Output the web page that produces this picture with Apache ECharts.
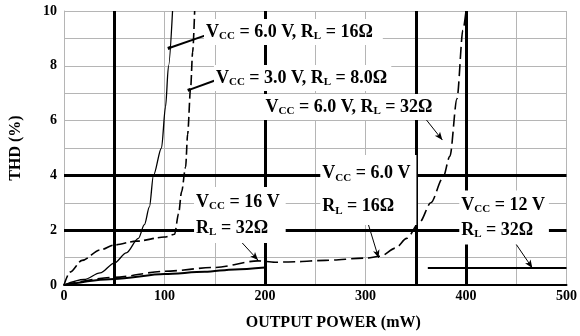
<!DOCTYPE html>
<html>
<head>
<meta charset="utf-8">
<title>THD vs Output Power</title>
<script src="https://cdn.jsdelivr.net/npm/echarts@6/dist/echarts.min.js"></script>
<style>
  html, body { margin: 0; padding: 0; background: #fff; }
  #chart { width: 580px; height: 336px; }
</style>
</head>
<body>
<div id="chart"></div>
<script>
// curves: [output power mW, THD %]
const curveA = [[0, 0], [20, 0.2], [36, 0.44], [50, 0.8], [62, 1.17], [74, 1.7], [80, 2.2], [85, 2.85], [89, 4], [97, 5], [101, 6.5], [104, 8], [108, 10]];
const curveB = [[0, 0], [6, 0.47], [18, 0.9], [36, 1.28], [50, 1.46], [72, 1.6], [100, 1.75], [110, 1.85], [114, 2.6], [117, 3.4], [121, 4.3], [123, 5.5], [126, 7.2], [128, 8.5], [130, 10]];
const curveC = [[0, 0], [50, 0.28], [100, 0.5], [150, 0.64], [193, 0.88], [210, 0.83], [230, 0.85], [260, 0.9], [300, 0.98], [315, 1.05], [330, 1.35], [341, 1.7], [354, 2.3], [365, 3], [377, 3.9], [384, 4.7], [391, 6.8], [397, 9.3], [400, 10]];
const curveD = [[0, 0], [50, 0.22], [100, 0.4], [140, 0.48], [170, 0.57], [200, 0.64]];
const curveE = [[362, 0.62], [500, 0.62]];

// heavy grid lines in the scan
const heavyX = [50, 200, 350, 400];
const heavyY = [2, 4];

// annotations (text top-left in data units) and their pointer lines
const notes = [
  { text: '{n|V}{s|CC}{n| = 6.0 V, R}{s|L}{n| = 16Ω}', at: [139.3, 9.71], lh: 22, padR: 10 },
  { text: '{n|V}{s|CC}{n| = 3.0 V, R}{s|L}{n| = 8.0Ω}', at: [149.2, 8.03], lh: 22, padR: 4 },
  { text: '{n|V}{s|CC}{n| = 6.0 V, R}{s|L}{n| = 32Ω}', at: [198.6, 6.97], lh: 22, padR: 4 },
  { text: '{n|V}{s|CC}{n| = 16 V}\n{n|R}{s|L}{n| = 32Ω}', at: [129.4, 3.58], lh: 26, padR: 6 },
  { text: '{n|V}{s|CC}{n| = 6.0 V}\n{n|R}{s|L}{n| = 16Ω}', at: [255, 4.74], lh: 33, padR: 6 },
  { text: '{n|V}{s|CC}{n| = 12 V}\n{n|R}{s|L}{n| = 32Ω}', at: [393.3, 3.45], lh: 25, padR: 4 }
];
const pointers = [
  { from: [141.5, 9.12], to: [104.7, 8.65], arrow: false, w: 2 },
  { from: [151.5, 7.48], to: [124.5, 7.12], arrow: false, w: 2 },
  { from: [359, 6.1], to: [376.5, 5.29], arrow: true, w: 1 },
  { from: [171, 1.79], to: [193, 0.91], arrow: true, w: 1 },
  { from: [300, 2.55], to: [313, 0.99], arrow: true, w: 1 },
  { from: [445, 1.75], to: [466, 0.62], arrow: true, w: 1 }
];

const FONT = '"Liberation Serif", "DejaVu Serif", serif';

function curve(data, dash, width) {
  return {
    type: 'line',
    data: data,
    symbol: 'none',
    smooth: 0.3,
    smoothMonotone: 'x',
    silent: true,
    z: 4,
    lineStyle: { color: '#000', width: width, type: dash || 'solid' }
  };
}

var chart = echarts.init(document.getElementById('chart'));

chart.setOption({
  animation: false,
  backgroundColor: '#fff',
  grid: { left: 62, right: 12, top: 11, bottom: 51 },
  xAxis: {
    type: 'value',
    min: 0, max: 500, interval: 50,
    name: 'OUTPUT POWER (mW)',
    nameLocation: 'middle',
    nameGap: 30,
    nameTextStyle: { fontFamily: FONT, fontWeight: 'bold', fontSize: 16, color: '#000', padding: [0, 0, 0, 36] },
    axisLine: { lineStyle: { color: '#000', width: 2 } },
    axisTick: { show: false },
    axisLabel: {
      margin: 4,
      fontFamily: FONT, fontWeight: 'bold', fontSize: 14, color: '#000',
      formatter: function (v) { return v % 100 === 0 ? v : ''; }
    },
    splitLine: { show: true, lineStyle: { color: '#b5b5b5', width: 1 } }
  },
  yAxis: {
    type: 'value',
    min: 0, max: 10, interval: 1,
    name: 'THD (%)',
    nameLocation: 'middle',
    nameGap: 40,
    nameTextStyle: { fontFamily: FONT, fontWeight: 'bold', fontSize: 16, color: '#000' },
    axisLine: { show: true, lineStyle: { color: '#b5b5b5', width: 1 } },
    axisTick: { show: false },
    axisLabel: {
      margin: 7,
      fontFamily: FONT, fontWeight: 'bold', fontSize: 14, color: '#000',
      formatter: function (v) { return v % 2 === 0 ? v : ''; }
    },
    splitLine: { show: true, lineStyle: { color: '#b5b5b5', width: 1 } }
  },
  series: [
    {
      type: 'line',
      data: [[0, 0]],
      symbol: 'none',
      silent: true,
      lineStyle: { opacity: 0 },
      z: 2,
      markLine: {
        silent: true,
        symbol: 'none',
        animation: false,
        label: { show: false },
        lineStyle: { color: '#000', width: 3, type: 'solid' },
        data: heavyX.map(function (v) { return { xAxis: v }; })
          .concat(heavyY.map(function (v) { return { yAxis: v }; }))
      }
    },
    curve(curveA, 'solid', 1.3),
    curve(curveB, [10, 4], 1.6),
    curve(curveC, [12, 5], 1.6),
    curve(curveD, 'solid', 2),
    curve(curveE, 'solid', 2),
    {
      type: 'line',
      data: [[0, 0]],
      symbol: 'none',
      silent: true,
      lineStyle: { opacity: 0 },
      z: 6,
      markLine: {
        silent: true,
        animation: false,
        label: { show: false },
        data: pointers.map(function (p) {
          return [
            { coord: p.from, symbol: 'none', lineStyle: { color: '#000', width: p.w, type: 'solid' } },
            { coord: p.to, symbol: p.arrow ? 'arrow' : 'rect', symbolSize: p.arrow ? [5, 8] : 3 }
          ];
        })
      }
    }
  ]
});

// label boxes, placed through the chart's own coordinate conversion
var graphics = notes.map(function (n) {
  var p = chart.convertToPixel({ gridIndex: 0 }, n.at);
  return {
    type: 'text',
    x: p[0], y: p[1],
    z: 100,
    silent: true,
    style: {
      text: n.text,
      align: 'left',
      verticalAlign: 'top',
      backgroundColor: '#fff',
      padding: [2, n.padR, 2, 2],
      lineHeight: n.lh,
      rich: {
        n: { fontFamily: FONT, fontWeight: 'bold', fontSize: 18, fill: '#000', lineHeight: n.lh, verticalAlign: 'middle' },
        s: { fontFamily: FONT, fontWeight: 'bold', fontSize: 11, fill: '#000', verticalAlign: 'middle', padding: [9, 0, 0, 0] }
      }
    }
  };
});
chart.setOption({ graphic: graphics });
</script>
</body>
</html>
